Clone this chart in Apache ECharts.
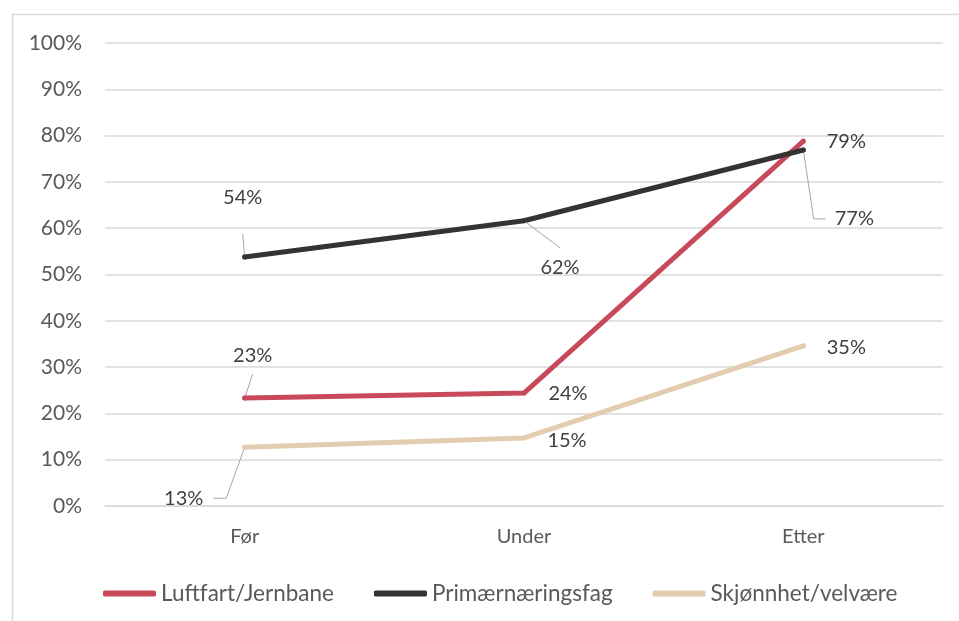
<!DOCTYPE html>
<html>
<head>
<meta charset="utf-8">
<title>Før / Under / Etter</title>
<script src="https://cdn.jsdelivr.net/npm/echarts@6/dist/echarts.min.js"></script>
<style>
  html, body { margin: 0; padding: 0; background: #fff; }
  #chart { width: 959px; height: 621px; }
</style>
</head>
<body>
<div id="chart"></div>
<script>
// data
const categories = ['Før', 'Under', 'Etter'];
const seriesNames = ['Luftfart/Jernbane', 'Primærnæringsfag', 'Skjønnhet/velvære'];
const luftfart = [23.3, 24.4, 78.8];
const primaer = [53.8, 61.6, 76.9];
const skjonnhet = [12.7, 14.7, 34.6];
const yMax = 100;
const yStep = 10;

const colors = ['#c84a5a', '#333333', '#e3cdb0'];
const font = 'Lato';

// where each value label sits relative to its point (text centre), padding = gap before leader line
const labelSpots = [
  [
    { x: 8, y: -43, pad: [9, 0, 9, 0], line: true },
    { x: 44, y: 1 },
    { x: 43, y: 0 }
  ],
  [
    { x: -2, y: -59, pad: [26, 0, 26, 0], line: true },
    { x: 36, y: 47, pad: [10, 0, 10, 0], line: true },
    { x: 51, y: 69, pad: [0, 40, 0, 9], line: true, elbow: 12 }
  ],
  [
    { x: -61, y: 51, pad: [0, 10, 0, 0], line: true, elbow: 13 },
    { x: 43, y: 3 },
    { x: 43, y: 2 }
  ]
];

function buildData(values, spots) {
  return values.map(function (v, i) {
    const s = spots[i];
    return {
      value: v,
      label: { padding: s.pad || [0, 0, 0, 0] },
      labelLine: { show: !!s.line, length2: s.elbow || 0 }
    };
  });
}

function makeSeries(name, values, idx) {
  return {
    name: name,
    type: 'line',
    data: buildData(values, labelSpots[idx]),
    symbol: 'circle',
    symbolSize: 5,
    showSymbol: true,
    itemStyle: { color: colors[idx] },
    lineStyle: { color: colors[idx], width: 5, cap: 'round', join: 'round' },
    label: {
      show: true,
      position: 'inside',
      color: '#404040',
      fontFamily: font,
      fontSize: 20,
      // transparent box so the padding counts for the leader line
      backgroundColor: 'rgba(255,255,255,0)',
      formatter: function (p) { return Math.round(p.value) + '%'; }
    },
    labelLine: {
      lineStyle: { color: '#a6a6a6', width: 1 }
    },
    labelLayout: function (p) {
      const s = labelSpots[idx][p.dataIndex];
      const pad = s.pad || [0, 0, 0, 0];
      // vertical padding stays centred on the text, horizontal one shifts it
      return {
        dx: s.x - (pad[3] - pad[1]) / 2,
        dy: s.y
      };
    },
    emphasis: { disabled: true }
  };
}

const chart = echarts.init(document.getElementById('chart'));
chart.setOption({
  animation: false,
  backgroundColor: '#fff',
  graphic: [{
    type: 'rect',
    shape: { x: 12.5, y: 14.5, width: 1000, height: 700 },
    style: { fill: 'none', stroke: '#d9d9d9', lineWidth: 1.5 },
    silent: true
  }],
  grid: { left: 105, right: 16, top: 43, bottom: 115 },
  legend: {
    data: seriesNames,
    left: 98,
    top: 577,
    icon: 'roundRect',
    itemWidth: 53,
    itemHeight: 6,
    itemGap: 40,
    textStyle: { color: '#595959', fontFamily: font, fontSize: 22.5 }
  },
  xAxis: {
    type: 'category',
    data: categories,
    boundaryGap: true,
    axisLine: { lineStyle: { color: '#d9d9d9', width: 1.5 } },
    axisTick: { show: false },
    axisLabel: { color: '#595959', fontFamily: font, fontSize: 20, margin: 21 }
  },
  yAxis: {
    type: 'value',
    min: 0,
    max: yMax,
    interval: yStep,
    axisLine: { show: false },
    axisTick: { show: false },
    splitLine: { lineStyle: { color: '#d9d9d9', width: 1.5 } },
    axisLabel: { color: '#595959', fontFamily: font, fontSize: 21, margin: 23, formatter: '{value}%' }
  },
  series: [
    makeSeries(seriesNames[0], luftfart, 0),
    makeSeries(seriesNames[1], primaer, 1),
    makeSeries(seriesNames[2], skjonnhet, 2)
  ]
});
</script>
</body>
</html>
